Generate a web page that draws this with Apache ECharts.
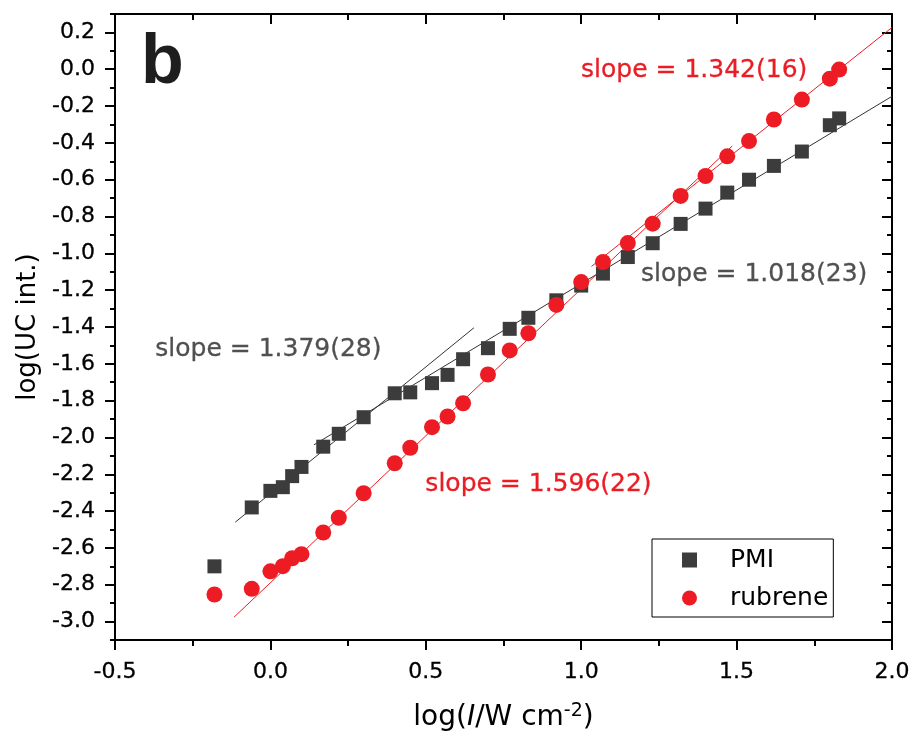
<!DOCTYPE html>
<html><head><meta charset="utf-8">
<script src="https://cdn.jsdelivr.net/npm/echarts@6/dist/echarts.min.js"></script>
<style>html,body{margin:0;padding:0;background:#fff}#c{width:914px;height:742px}</style>
</head><body><div id="c"></div>
<script>
// ---- data ----
const logI = [-0.18, -0.06, 0.00, 0.04, 0.07, 0.10, 0.17, 0.22, 0.30, 0.40, 0.45, 0.52, 0.57, 0.62, 0.70, 0.77, 0.83, 0.92, 1.00, 1.07, 1.15, 1.23, 1.32, 1.40, 1.47, 1.54, 1.62, 1.71, 1.80, 1.83];
const pmi = [-2.70, -2.38, -2.29, -2.27, -2.21, -2.16, -2.05, -1.98, -1.89, -1.76, -1.755, -1.705, -1.66, -1.575, -1.515, -1.41, -1.35, -1.255, -1.175, -1.11, -1.02, -0.945, -0.84, -0.757, -0.67, -0.60, -0.525, -0.447, -0.304, -0.267];
const rubrene = [-2.853, -2.822, -2.727, -2.699, -2.656, -2.634, -2.516, -2.436, -2.303, -2.14, -2.056, -1.944, -1.886, -1.814, -1.658, -1.527, -1.434, -1.28, -1.156, -1.047, -0.944, -0.839, -0.688, -0.58, -0.473, -0.39, -0.273, -0.165, -0.051, -0.002];

// fitted lines (end points in data units)
const pmiFitLowX = [-0.113, 0.655];
const pmiFitLowY = [-2.46, -1.404];
const pmiFitHighX = [0.14, 2.0];
const pmiFitHighY = [-2.04, -0.147];
const rubFitLowX = [-0.117, 1.486];
const rubFitLowY = [-2.976, -0.417];
const rubFitHighX = [1.033, 2.0];
const rubFitHighY = [-1.071, 0.227];

// slope annotations
const slopeTexts = ['slope = 1.342(16)', 'slope = 1.018(23)', 'slope = 1.379(28)', 'slope = 1.596(22)'];
const slopeOwner = ['rubrene', 'PMI', 'PMI', 'rubrene'];
const slopeAnchorX = [0.998, 1.191, -0.372, 0.497];
const slopeAnchorY = [-0.005, -1.114, -1.522, -2.255];

// ticks
const xMajor = [-0.5, 0.0, 0.5, 1.0, 1.5, 2.0];
const xMinor = [-0.25, 0.25, 0.75, 1.25, 1.75];
const yMajor = [-3.0, -2.8, -2.6, -2.4, -2.2, -2.0, -1.8, -1.6, -1.4, -1.2, -1.0, -0.8, -0.6, -0.4, -0.2, 0.0, 0.2];
const yMinor = [-3.1, -2.9, -2.7, -2.5, -2.3, -2.1, -1.9, -1.7, -1.5, -1.3, -1.1, -0.9, -0.7, -0.5, -0.3, -0.1, 0.1, 0.3];

// ---- styling ----
const FONT = 'DejaVu Sans';
const GRAY = '#3c3c3c';
const RED = '#ed1c24';
const TEXTGRAY = '#505050';
const TEXTRED = '#ea1c24';
const ownerColor = { PMI: TEXTGRAY, rubrene: TEXTRED };

const zip = (xs, ys) => xs.map((x, i) => [x, ys[i]]);

function valueAxis(kind, pos, ticks, len, inside, labels, extra) {
  const isX = kind === 'x';
  const ax = {
    type: 'value',
    position: pos,
    min: isX ? -0.5 : -3.1,
    max: isX ? 2.0 : 0.3,
    splitLine: { show: false },
    axisLine: { show: !!(extra && extra.line), onZero: false, lineStyle: { color: '#000', width: 2 } },
    axisTick: { show: true, inside: inside, length: len, customValues: ticks, lineStyle: { color: '#000', width: 2 } },
    axisLabel: labels ? {
      show: true, customValues: ticks, formatter: v => v.toFixed(1),
      fontFamily: FONT, fontSize: 22, color: '#000', margin: isX ? 21 : 20,
      textBorderColor: '#000', textBorderWidth: 0.3
    } : { show: false }
  };
  if (extra && extra.name) Object.assign(ax, extra.name);
  return ax;
}

const chart = echarts.init(document.getElementById('c'), null, { renderer: 'canvas' });
chart.setOption({
  animation: false,
  backgroundColor: '#fff',
  title: {
    text: 'b', left: 141, top: 29, padding: 0,
    textStyle: { fontFamily: 'Liberation Sans', fontWeight: 'bold', fontSize: 70, color: '#1e1e1e' }
  },
  grid: { left: 115, right: 22, top: 14, bottom: 102, containLabel: false, outerBoundsMode: 'none' },
  legend: {
    orient: 'vertical', left: 652, top: 539,
    padding: [8, 5, 6, 30], itemGap: 12, itemWidth: 15, itemHeight: 15,
    borderColor: '#000', borderWidth: 1, backgroundColor: '#fff',
    textStyle: { fontFamily: FONT, fontSize: 25, color: '#000', lineHeight: 26, padding: [0, 0, 0, 28] },
    data: ['PMI', 'rubrene']
  },
  xAxis: [
    valueAxis('x', 'bottom', xMajor, 10, false, true, {
      line: true,
      name: {
        name: 'log({i|I}/W cm{sup|-2})', nameLocation: 'middle', nameGap: 62,
        nameTextStyle: {
          fontFamily: FONT, fontSize: 28, color: '#000', lineHeight: 32,
          rich: {
            i: { fontFamily: FONT, fontSize: 28, fontStyle: 'italic', color: '#000', lineHeight: 32 },
            sup: { fontFamily: FONT, fontSize: 19, color: '#000', verticalAlign: 'top', lineHeight: 20 }
          }
        }
      }
    }),
    valueAxis('x', 'bottom', xMinor, 6, false, false),
    valueAxis('x', 'top', xMajor, 10, true, false, { line: true }),
    valueAxis('x', 'top', xMinor, 6, true, false)
  ],
  yAxis: [
    valueAxis('y', 'left', yMajor, 10, false, true, {
      line: true,
      name: {
        name: 'log(UC int.)', nameLocation: 'middle', nameGap: 68,
        nameTextStyle: { fontFamily: FONT, fontSize: 26, color: '#000' }
      }
    }),
    valueAxis('y', 'left', yMinor, 5, false, false),
    valueAxis('y', 'right', yMajor, 10, true, false, { line: true }),
    valueAxis('y', 'right', yMinor, 5, true, false)
  ],
  series: [
    { type: 'line', data: zip(pmiFitLowX, pmiFitLowY), showSymbol: false, symbol: 'none', lineStyle: { color: '#333', width: 1 }, silent: true, z: 2 },
    { type: 'line', data: zip(pmiFitHighX, pmiFitHighY), showSymbol: false, symbol: 'none', lineStyle: { color: '#333', width: 1 }, silent: true, z: 2 },
    { type: 'line', data: zip(rubFitLowX, rubFitLowY), showSymbol: false, symbol: 'none', lineStyle: { color: RED, width: 1 }, silent: true, z: 2 },
    { type: 'line', data: zip(rubFitHighX, rubFitHighY), showSymbol: false, symbol: 'none', lineStyle: { color: RED, width: 1 }, silent: true, z: 2 },
    { name: 'PMI', type: 'scatter', symbol: 'rect', symbolSize: 14, data: zip(logI, pmi), itemStyle: { color: GRAY, opacity: 1 }, z: 3 },
    { name: 'rubrene', type: 'scatter', symbol: 'circle', symbolSize: 16, data: zip(logI, rubrene), itemStyle: { color: RED, opacity: 1 }, z: 4 },
    {
      type: 'scatter', symbolSize: 1, itemStyle: { color: 'rgba(0,0,0,0)', opacity: 1 }, silent: true, z: 5,
      data: slopeTexts.map((t, i) => ({
        name: t, value: [slopeAnchorX[i], slopeAnchorY[i]],
        label: { color: ownerColor[slopeOwner[i]], textBorderColor: ownerColor[slopeOwner[i]], textBorderWidth: 0.3 }
      })),
      label: { show: true, position: 'right', distance: 0, formatter: p => p.name, fontFamily: FONT, fontSize: 25, verticalAlign: 'middle' }
    }
  ]
});
</script></body></html>
